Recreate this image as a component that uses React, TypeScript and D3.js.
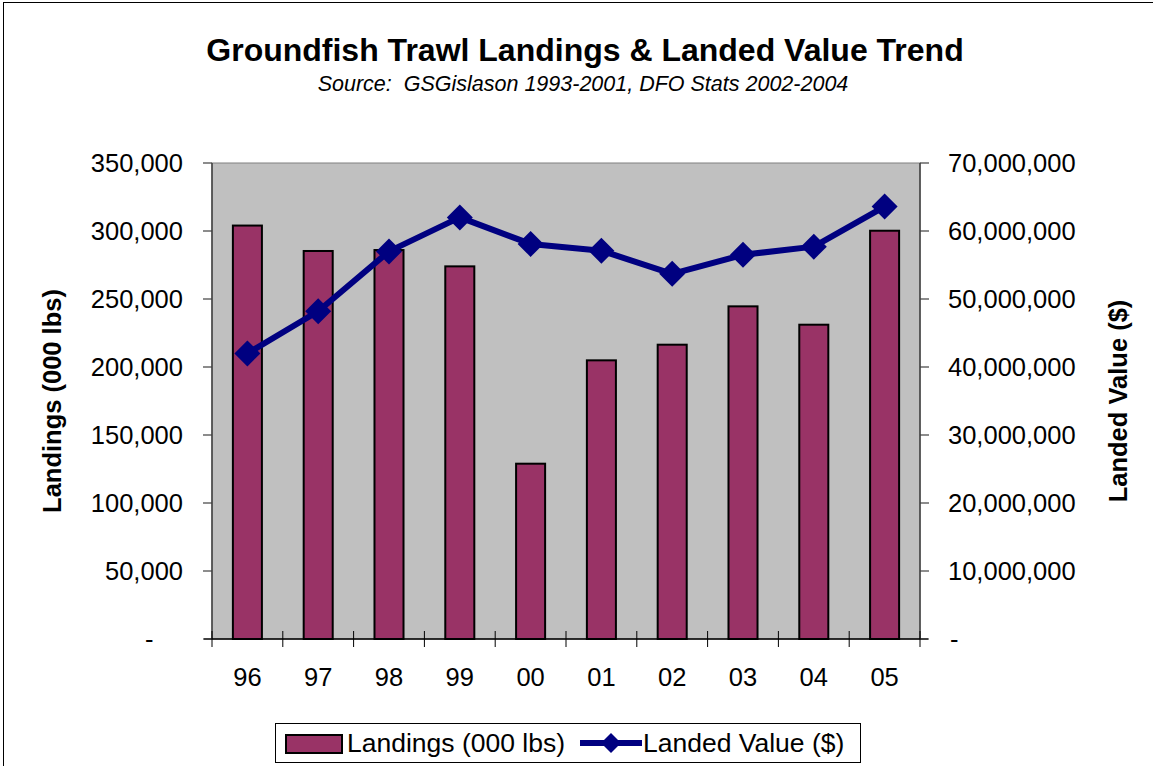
import React from "react";
import * as d3 from "d3";

const years = ["96", "97", "98", "99", "00", "01", "02", "03", "04", "05"];
const landings = [304000, 285300, 286000, 274000, 128900, 204900, 216400, 244600, 231100, 300200];
const landedValue = [42000000, 48200000, 57000000, 62000000, 58100000, 57100000, 53700000, 56500000, 57700000, 63600000];
const leftTicks = [0, 50000, 100000, 150000, 200000, 250000, 300000, 350000];
const rightTicks = [0, 10000000, 20000000, 30000000, 40000000, 50000000, 60000000, 70000000];

const W = 1153, H = 766;
const L = 212, R = 920, T = 163, B = 639;
const font = "Arial, 'Liberation Sans', sans-serif";
const FS = 25.5;

export default function App() {
  const x = d3.scaleBand().domain(years).range([L, R]).paddingInner(0.59).paddingOuter(0.295);
  const xb = d3.scaleBand().domain(years).range([L, R]);
  const yL = d3.scaleLinear().domain([0, 350000]).range([B, T]);
  const yR = d3.scaleLinear().domain([0, 70000000]).range([B, T]);
  const fmt = (v: number) => (v === 0 ? "-" : d3.format(",")(v));
  const line = d3.line<number>().x((_, i) => (xb(years[i]) as number) + xb.bandwidth() / 2).y((v) => yR(v));
  const diamond = (cx: number, cy: number, r: number) => `M${cx},${cy - r}L${cx + r},${cy}L${cx},${cy + r}L${cx - r},${cy}Z`;

  return (
    <svg width={W} height={H} style={{ position: "absolute", left: 0, top: 0, background: "#fff" }}>
      <rect x={3.5} y={2.5} width={1200} height={800} fill="#fff" stroke="#000" strokeWidth={1} />
      <text x={585} y={61} textAnchor="middle" fontFamily={font} fontWeight="bold" fontSize={32}>Groundfish Trawl Landings &amp; Landed Value Trend</text>
      <text x={583} y={91} textAnchor="middle" fontFamily={font} fontStyle="italic" fontSize={21.5} style={{ whiteSpace: "pre" }}>{"Source:  GSGislason 1993-2001, DFO Stats 2002-2004"}</text>

      <rect x={L} y={T} width={R - L} height={B - T} fill="#C0C0C0" stroke="#808080" strokeWidth={1} />

      {years.map((yr, i) => (
        <rect key={yr} x={x(yr)} y={yL(landings[i])} width={x.bandwidth()} height={B - yL(landings[i])} fill="#993366" stroke="#000" strokeWidth={2} />
      ))}

      <line x1={L} y1={T} x2={L} y2={B} stroke="#404040" strokeWidth={1.5} />
      <line x1={R} y1={T} x2={R} y2={B} stroke="#404040" strokeWidth={1.5} />
      <line x1={L - 8} y1={B} x2={R + 8} y2={B} stroke="#000" strokeWidth={1.5} />

      {leftTicks.map((t) => (
        <g key={"l" + t}>
          <line x1={L - 9} x2={L} y1={yL(t)} y2={yL(t)} stroke="#404040" strokeWidth={1.2} />
          <text x={t === 0 ? 145 : 183} y={yL(t) + 9} textAnchor={t === 0 ? "start" : "end"} fontFamily={font} fontSize={FS}>{fmt(t)}</text>
        </g>
      ))}
      {rightTicks.map((t) => (
        <g key={"r" + t}>
          <line x1={R} x2={R + 9} y1={yR(t)} y2={yR(t)} stroke="#404040" strokeWidth={1.2} />
          <text x={t === 0 ? 950 : 948} y={yR(t) + 9} textAnchor="start" fontFamily={font} fontSize={FS}>{fmt(t)}</text>
        </g>
      ))}
      {years.concat(["end"]).map((yr, i) => {
        const px = L + i * xb.bandwidth();
        return <line key={"xt" + i} x1={px} x2={px} y1={B - 8} y2={B + 8} stroke="#000" strokeWidth={1} />;
      })}
      {years.map((yr) => (
        <text key={"xl" + yr} x={(xb(yr) as number) + xb.bandwidth() / 2} y={686} textAnchor="middle" fontFamily={font} fontSize={FS}>{yr}</text>
      ))}

      <path d={line(landedValue) || ""} fill="none" stroke="#000080" strokeWidth={6} strokeLinejoin="round" />
      {landedValue.map((v, i) => (
        <path key={"m" + i} d={diamond((xb(years[i]) as number) + xb.bandwidth() / 2, yR(v), 13)} fill="#000080" />
      ))}

      <text transform={`translate(61,${(T + B) / 2}) rotate(-90)`} textAnchor="middle" fontFamily={font} fontWeight="bold" fontSize={25.5}>Landings (000 lbs)</text>
      <text transform={`translate(1127,${(T + B) / 2}) rotate(-90)`} textAnchor="middle" fontFamily={font} fontWeight="bold" fontSize={25.5}>Landed Value ($)</text>

      <rect x={275.5} y={723.5} width={585} height={39} fill="#fff" stroke="#000" strokeWidth={1} />
      <rect x={286} y={735} width={56} height={18} fill="#993366" stroke="#000" strokeWidth={2} />
      <text x={347} y={752} fontFamily={font} fontSize={26.5}>Landings (000 lbs)</text>
      <line x1={580} x2={642} y1={743} y2={743} stroke="#000080" strokeWidth={6} />
      <path d={diamond(611, 743, 10)} fill="#000080" />
      <text x={643} y={752} fontFamily={font} fontSize={26.5}>Landed Value ($)</text>
    </svg>
  );
}
